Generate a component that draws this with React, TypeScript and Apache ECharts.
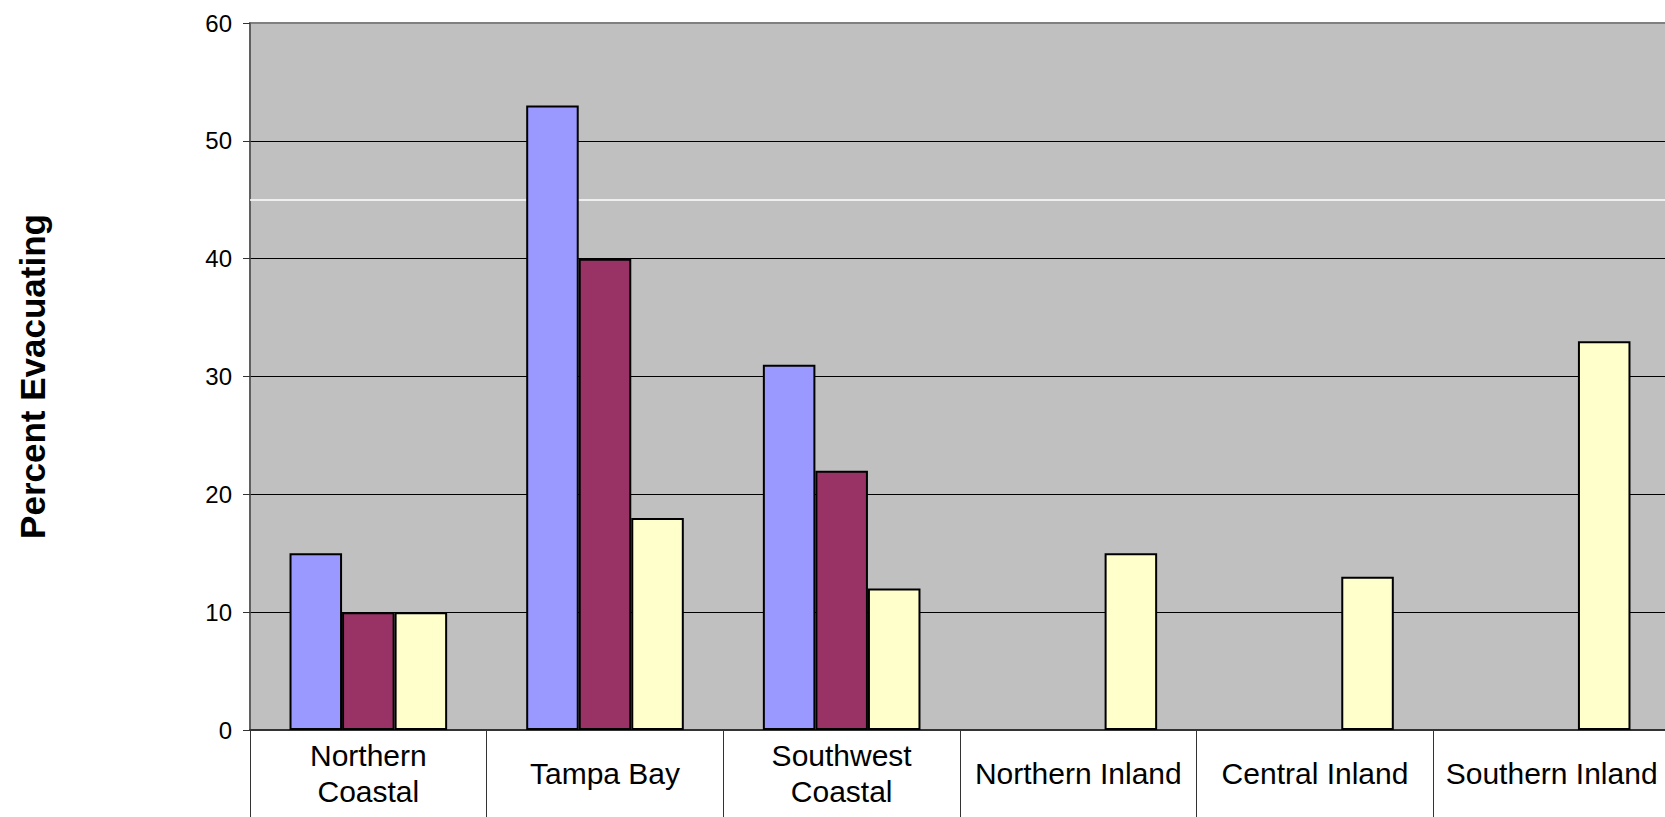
import React, { useEffect, useRef } from "react";
import * as echarts from "echarts";

const categories = [
  "Northern\nCoastal",
  "Tampa Bay",
  "Southwest\nCoastal",
  "Northern Inland",
  "Central Inland",
  "Southern Inland",
];
const seriesNames = ["Series 1", "Series 2", "Series 3"];
const series1 = [15, 53, 31, null, null, null];
const series2 = [10, 40, 22, null, null, null];
const series3 = [10, 18, 12, 15, 13, 33];
const seriesColors = ["#9999FF", "#993366", "#FFFFCC"];
const yTicks = { min: 0, max: 60, interval: 10 };
const whiteLineValue = 45;
const yAxisTitle = "Percent Evacuating";

const FONT = "Arial, 'Liberation Sans', sans-serif";

export default function App() {
  const ref = useRef<HTMLDivElement>(null);
  useEffect(() => {
    if (!ref.current) return;
    const chart = echarts.init(ref.current, undefined, { renderer: "svg" });
    const data = [series1, series2, series3];
    chart.setOption({
      animation: false,
      grid: {
        left: 250,
        top: 23,
        width: 1420,
        height: 707,
        containLabel: false,
        outerBoundsMode: "none",
        show: true,
        backgroundColor: "#C0C0C0",
        borderColor: "#808080",
        borderWidth: 2,
      },
      xAxis: {
        type: "category",
        data: categories,
        axisLine: { show: true, lineStyle: { color: "#333333", width: 2 } },
        axisTick: {
          show: true,
          length: 95,
          lineStyle: { color: "#333333", width: 1 },
        },
        axisLabel: {
          interval: 0,
          fontFamily: FONT,
          fontSize: 30,
          lineHeight: 36,
          color: "#000",
          margin: 43,
          verticalAlign: "middle",
          align: "center",
        },
        splitLine: { show: false },
      },
      yAxis: {
        type: "value",
        min: yTicks.min,
        max: yTicks.max,
        interval: yTicks.interval,
        name: yAxisTitle,
        nameLocation: "middle",
        nameRotate: 90,
        nameGap: 200,
        nameTextStyle: {
          fontFamily: FONT,
          fontSize: 35,
          fontWeight: "bold",
          color: "#000",
        },
        axisLine: { show: true, lineStyle: { color: "#555555", width: 1.5 } },
        axisTick: {
          show: true,
          length: 7,
          lineStyle: { color: "#333333", width: 1 },
        },
        axisLabel: {
          fontFamily: FONT,
          fontSize: 24,
          color: "#000",
          margin: 18,
        },
        splitLine: {
          show: true,
          showMaxLine: false,
          lineStyle: { color: "#000", width: 1 },
        },
      },
      series: data.map((d, i) => ({
        name: seriesNames[i],
        type: "bar",
        data: d,
        barGap: "0%",
        barCategoryGap: "33.4%",
        itemStyle: {
          color: seriesColors[i],
          borderColor: "#000",
          borderWidth: 2,
        },
        ...(i === 0
          ? {
              markLine: {
                z: 1,
                silent: true,
                symbol: "none",
                label: { show: false },
                lineStyle: { color: "#FFFFFF", width: 1.5, type: "solid" },
                data: [{ yAxis: whiteLineValue }],
              },
            }
          : {}),
      })),
    });
    return () => chart.dispose();
  }, []);
  return (
    <div
      style={{
        position: "fixed",
        left: 0,
        top: 0,
        width: "100vw",
        height: "100vh",
        overflow: "hidden",
        background: "#fff",
      }}
    >
      <div ref={ref} style={{ width: 1700, height: 817 }} />
    </div>
  );
}
